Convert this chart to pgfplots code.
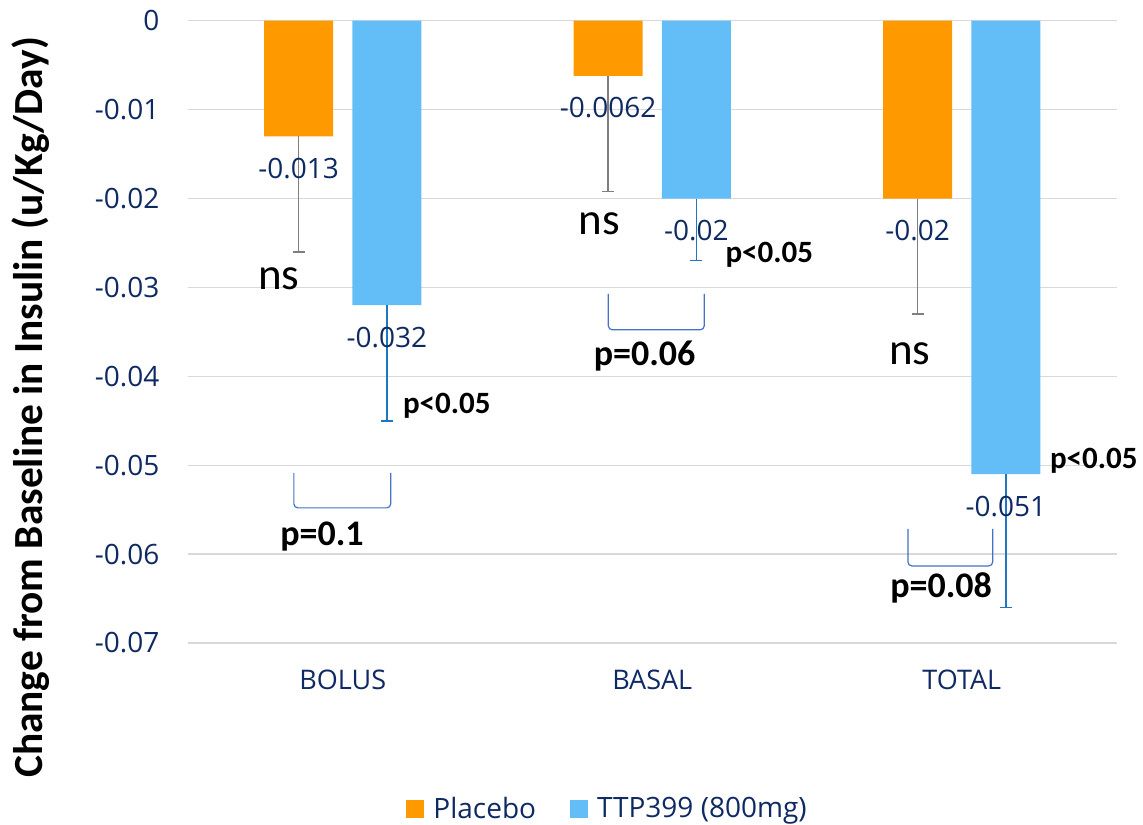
\documentclass[border=0pt]{standalone}
\usepackage{pgfplots}
\pgfplotsset{compat=1.18}
\usepackage{pgfplotstable}
\usepackage{fontspec}
\setmainfont{Open Sans}
\newfontfamily\calibri{Carlito}
\definecolor{orng}{HTML}{FF9900}
\definecolor{lblue}{HTML}{63BEF8}
\definecolor{navy}{HTML}{0F2A63}
\definecolor{errblue}{HTML}{1F77C4}
\definecolor{errgray}{HTML}{7F7F7F}
\definecolor{brk}{HTML}{4472C4}
\definecolor{gridc}{HTML}{D9D9D9}

\pgfplotstableread{
x y err lab
0 -0.013 0.013 -0.013
1 -0.0062 0.013 -0.0062
2 -0.02 0.013 -0.02
}\placebo
\pgfplotstableread{
x y err lab
0 -0.032 0.013 -0.032
1 -0.02 0.007 -0.02
2 -0.051 0.015 -0.051
}\ttp

\begin{document}
\begin{tikzpicture}
\path[use as bounding box] (-94pt,-90.5pt) rectangle (477.5pt,321.5pt);
\begin{axis}[
  at={(0,0)}, anchor=south west,
  scale only axis, width=464.25pt, height=311.15pt,
  xmin=-0.5, xmax=2.5, ymin=-0.07, ymax=0,
  ybar, bar width=0.2235,
  xtick={0,1,2}, xticklabels={BOLUS,BASAL,TOTAL},
  ytick={-0.07,-0.06,-0.05,-0.04,-0.03,-0.02,-0.01,0},
  yticklabels={-0.07,-0.06,-0.05,-0.04,-0.03,-0.02,-0.01,0},
  scaled y ticks=false,
  ymajorgrids, grid style={gridc, line width=0.7pt},
  axis line style={draw=none}, major tick length=0pt,
  yticklabel style={font=\fontsize{14}{16}\selectfont, text=navy, xshift=-10.8pt},
  xticklabel style={font=\fontsize{13.5}{15}\selectfont, text=navy, yshift=-10pt},
  ylabel={Change from Baseline in Insulin (u/Kg/Day)},
  ylabel style={at={(rel axis cs:-0.169,0.3784)}, anchor=center,
    font=\calibri\bfseries\fontsize{20.7}{24}\selectfont, text=black},
  clip=false,
  legend style={at={(rel axis cs:0.453,-0.2668)}, anchor=center, draw=none, fill=none,
    font=\fontsize{14}{16}\selectfont, text=navy,
    /tikz/every even column/.append style={column sep=15pt}},
  legend columns=2,
  legend image code/.code={\fill[#1] (0pt,-4.5pt) rectangle (9pt,4.5pt); \path (11.5pt,0pt);},
]
\addplot[fill=orng, draw=none, bar shift=-0.1426,
  nodes near coords, point meta=explicit symbolic,
  nodes near coords style={font=\fontsize{14}{16}\selectfont, text=navy, anchor=north, yshift=-7.3pt},
  error bars/.cd, y dir=minus, y explicit,
  error bar style={color=errgray, line width=0.75pt},
  error mark options={rotate=90, color=errgray, line width=0.75pt, mark size=3pt}]
  table[x=x, y=y, y error=err, meta=lab]{\placebo};
\addlegendentry{Placebo}
\addplot[fill=lblue, draw=none, bar shift=0.1426,
  nodes near coords, point meta=explicit symbolic,
  nodes near coords style={font=\fontsize{14}{16}\selectfont, text=navy, anchor=north, yshift=-7.3pt},
  error bars/.cd, y dir=minus, y explicit,
  error bar style={color=errblue, line width=0.75pt},
  error mark options={rotate=90, color=errblue, line width=0.75pt, mark size=3pt}]
  table[x=x, y=y, y error=err, meta=lab]{\ttp};
\addlegendentry{TTP399 (800mg)}

% ns annotations
\node[font=\calibri\fontsize{22.5}{26}\selectfont, anchor=center] at (axis cs:-0.206,-0.0290) {ns};
\node[font=\calibri\fontsize{22.5}{26}\selectfont, anchor=center] at (axis cs:0.829,-0.02285) {ns};
\node[font=\calibri\fontsize{22.5}{26}\selectfont, anchor=center] at (axis cs:1.832,-0.03748) {ns};
% p<0.05
\node[font=\calibri\bfseries\fontsize{15.5}{18}\selectfont, anchor=base west, inner sep=0pt] at (axis cs:0.1935,-0.04423) {p<0.05};
\node[font=\calibri\bfseries\fontsize{15.5}{18}\selectfont, anchor=base west, inner sep=0pt] at (axis cs:1.2355,-0.02723) {p<0.05};
\node[font=\calibri\bfseries\fontsize{15.5}{18}\selectfont, anchor=base west, inner sep=0pt] at (axis cs:2.284,-0.05042) {p<0.05};
% brackets
\draw[brk, line width=0.6pt, rounded corners=2pt] (axis cs:-0.158,-0.05087) -- (axis cs:-0.158,-0.0548) -- (axis cs:0.155,-0.0548) -- (axis cs:0.155,-0.05087);
\draw[brk, line width=0.6pt, rounded corners=2pt] (axis cs:0.858,-0.03072) -- (axis cs:0.858,-0.03477) -- (axis cs:1.168,-0.03477) -- (axis cs:1.168,-0.03072);
\draw[brk, line width=0.6pt, rounded corners=2pt] (axis cs:1.826,-0.05717) -- (axis cs:1.826,-0.06133) -- (axis cs:2.1,-0.06133) -- (axis cs:2.1,-0.05717);
% p= labels
\node[font=\calibri\bfseries\fontsize{18}{21}\selectfont, anchor=base west, inner sep=0pt] at (axis cs:-0.203,-0.05908) {p=0.1};
\node[font=\calibri\bfseries\fontsize{18}{21}\selectfont, anchor=base west, inner sep=0pt] at (axis cs:0.8097,-0.03883) {p=0.06};
\node[font=\calibri\bfseries\fontsize{18}{21}\selectfont, anchor=base west, inner sep=0pt] at (axis cs:1.768,-0.06493) {p=0.08};
\end{axis}
\end{tikzpicture}
\end{document}
